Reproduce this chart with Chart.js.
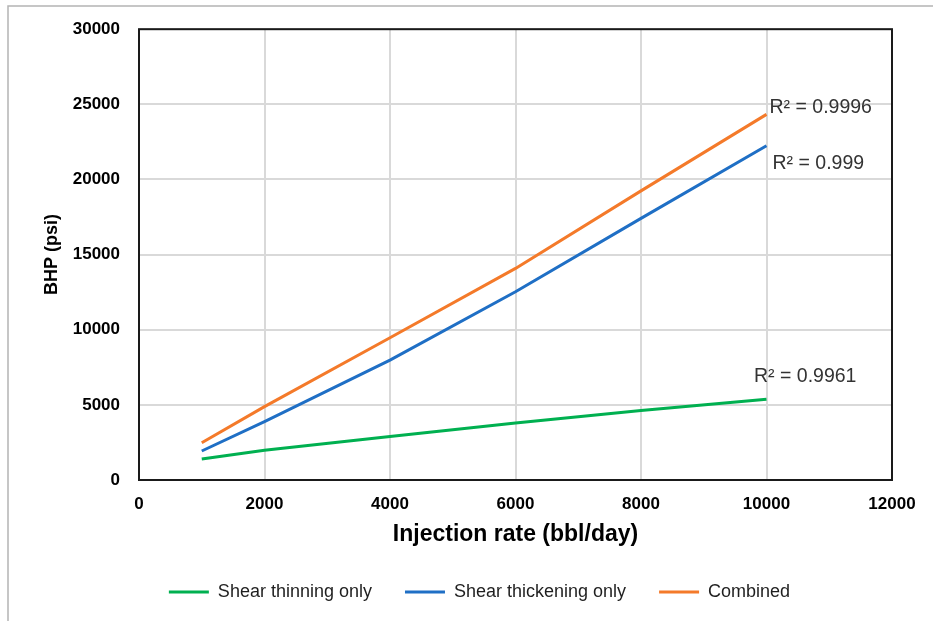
<!DOCTYPE html>
<html><head><meta charset="utf-8">
<script src="https://cdn.jsdelivr.net/npm/chart.js@4/dist/chart.umd.min.js"></script>
<style>html,body{margin:0;padding:0;background:#fff;overflow:hidden}</style>
</head><body>
<canvas id="c" width="933" height="621"></canvas>
<script>
// ---- data ----
const injectionRates = [1000, 2000, 4000, 6000, 8000, 10000];
const shearThinning = [1400, 1980, 2900, 3800, 4620, 5380];
const shearThickening = [1930, 3880, 7980, 12530, 17410, 22240];
const combined = [2480, 4880, 9470, 14080, 19240, 24330];
const seriesNames = ['Shear thinning only', 'Shear thickening only', 'Combined'];
const rSquared = ['0.9961', '0.999', '0.9996'];
const xAxisTitle = 'Injection rate (bbl/day)';
const yAxisTitle = 'BHP (psi)';

const FONT = "'Liberation Sans', Arial, sans-serif";
Chart.defaults.font.family = FONT;

const colors = ['#00b050', '#1f6fc5', '#f47a2a'];
const seriesValues = [shearThinning, shearThickening, combined];

const datasets = seriesValues.map((vals, i) => ({
  label: seriesNames[i],
  data: injectionRates.map((x, j) => ({x: x, y: vals[j]})),
  borderColor: colors[i],
  backgroundColor: colors[i],
  borderWidth: 3,
  pointRadius: 0,
  tension: 0,
  fill: false
}));

const labelOffsets = [{dx: -12.5, dy: -17.4}, {dx: 6, dy: 23.6}, {dx: 3, dy: -1}];

const framePlugin = {
  id: 'frame',
  beforeDraw(chart) {
    const ctx = chart.ctx;
    ctx.save();
    ctx.fillStyle = '#fff';
    ctx.fillRect(0, 0, chart.width, chart.height);
    ctx.strokeStyle = '#b4b4b4';
    ctx.lineWidth = 1.5;
    ctx.beginPath();
    ctx.moveTo(8, chart.height);
    ctx.lineTo(8, 6);
    ctx.lineTo(chart.width, 6);
    ctx.stroke();
    ctx.restore();
  },
  afterDatasetsDraw(chart) {
    const ctx = chart.ctx;
    const a = chart.chartArea;
    ctx.save();
    ctx.strokeStyle = '#1a1a1a';
    ctx.lineWidth = 2;
    ctx.strokeRect(a.left, a.top, a.right - a.left, a.bottom - a.top);
    ctx.font = '19.5px ' + FONT;
    ctx.fillStyle = '#333333';
    ctx.textAlign = 'left';
    ctx.textBaseline = 'alphabetic';
    chart.data.datasets.forEach((ds, i) => {
      const meta = chart.getDatasetMeta(i);
      const pt = meta.data[meta.data.length - 1];
      ctx.fillText('R\u00B2 = ' + rSquared[i], pt.x + labelOffsets[i].dx, pt.y + labelOffsets[i].dy);
    });
    ctx.restore();
  }
};

new Chart(document.getElementById('c'), {
  type: 'line',
  data: {datasets: datasets},
  options: {
    responsive: false,
    animation: false,
    devicePixelRatio: 1,
    layout: {padding: {left: 67, right: 41, top: 29, bottom: 10}},
    plugins: {
      tooltip: {enabled: false},
      legend: {
        position: 'bottom',
        align: 'center',
        labels: {
          font: {size: 18, family: FONT},
          color: '#1f1f1f',
          boxWidth: 40,
          boxHeight: 3,
          padding: 33,
          generateLabels(chart) {
            const items = Chart.defaults.plugins.legend.labels.generateLabels(chart);
            items.forEach(it => { it.lineWidth = 0; it.fillStyle = it.strokeStyle; });
            return items;
          }
        }
      }
    },
    scales: {
      x: {
        type: 'linear',
        min: 0, max: 12000,
        ticks: {stepSize: 2000, padding: 14, color: '#000', font: {size: 17, weight: 'bold'}, callback: v => String(v)},
        grid: {color: '#d9d9d9', lineWidth: 2, drawTicks: false},
        border: {display: false},
        title: {display: true, text: xAxisTitle, color: '#000', font: {size: 23, weight: 'bold'}, padding: {top: 0, bottom: 2}},
        afterFit(s) { s.height = 70; }
      },
      y: {
        type: 'linear',
        min: 0, max: 30000,
        ticks: {stepSize: 5000, padding: 19, color: '#000', font: {size: 17, weight: 'bold'}, callback: v => String(v)},
        grid: {color: '#d9d9d9', lineWidth: 2, drawTicks: false},
        border: {display: false},
        title: {display: true, text: yAxisTitle, color: '#000', font: {size: 18, weight: 'bold'}, padding: {top: -26, bottom: 0}},
        afterFit(s) { s.width = 72; }
      }
    }
  },
  plugins: [framePlugin]
});
</script>
</body></html>
